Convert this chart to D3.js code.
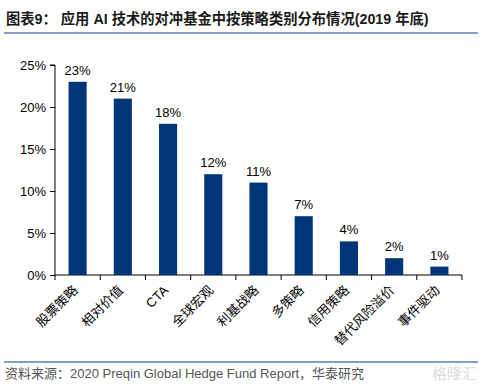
<!DOCTYPE html>
<html>
<head>
<meta charset="utf-8">
<script src="https://cdn.jsdelivr.net/npm/d3@7"></script>
<style>
  body { margin: 0; background: #fff; }
  svg { display: block; }
</style>
</head>
<body>
<svg id="chart" width="482" height="386"></svg>
<script>
var categories = ["股票策略", "相对价值", "CTA", "全球宏观", "利基战略", "多策略", "信用策略", "替代风险溢价", "事件驱动"];
var shares = [23, 21, 18, 12, 11, 7, 4, 2, 1];
var yTicks = [0, 5, 10, 15, 20, 25];

var svg = d3.select("#chart"),
    margin = { left: 55, right: 20, top: 65, bottom: 111 },
    width = +svg.attr("width") - margin.left - margin.right,
    height = +svg.attr("height") - margin.top - margin.bottom;

var sans = "'Liberation Sans', Arial, sans-serif";
var cjk = "'Noto Sans CJK SC', sans-serif";

// title + rule
svg.append("text")
    .attr("x", 6).attr("y", 24)
    .attr("font-family", "'Liberation Sans', 'Noto Sans CJK SC', sans-serif")
    .attr("font-weight", "bold")
    .attr("font-size", 14.3)
    .attr("fill", "#1a1a1a")
    .text("图表9：  应用 AI 技术的对冲基金中按策略类别分布情况(2019 年底)");
svg.append("line")
    .attr("x1", 4).attr("x2", 478).attr("y1", 33).attr("y2", 33)
    .attr("stroke", "#5a7fb5").attr("stroke-width", 1.5);

var g = svg.append("g").attr("transform", "translate(" + margin.left + "," + margin.top + ")");

var x = d3.scaleBand().domain(categories).range([0, width]).paddingInner(0.6).paddingOuter(0.3);
var y = d3.scaleLinear().domain([0, 25]).range([height, 0]);

var yAxis = g.append("g")
    .call(d3.axisLeft(y).tickValues(yTicks).tickSize(5).tickFormat(function(d) { return d + "%"; }));
yAxis.selectAll("text").attr("font-family", sans).attr("font-size", 13).attr("fill", "#000").attr("dx", -1);
yAxis.selectAll("line").attr("stroke", "#000");
yAxis.select(".domain").attr("stroke", "#000").attr("d", "M-5," + y(25) + "H0V" + height);

var xAxis = g.append("g")
    .attr("transform", "translate(0," + height + ")")
    .call(d3.axisBottom(x).tickSize(0).tickFormat(""));
xAxis.select(".domain").attr("stroke", "#000").attr("d", "M0,0H" + width);

// tick marks between categories
var bounds = d3.range(categories.length + 1).map(function(i) { return i * width / categories.length; });
g.selectAll(".sep").data(bounds).enter().append("line")
    .attr("x1", function(d) { return d; }).attr("x2", function(d) { return d; })
    .attr("y1", height).attr("y2", height + 5)
    .attr("stroke", "#000");

g.selectAll(".bar").data(shares).enter().append("rect")
    .attr("x", function(d, i) { return x(categories[i]); })
    .attr("y", function(d) { return y(d); })
    .attr("width", x.bandwidth())
    .attr("height", function(d) { return height - y(d); })
    .attr("fill", "#003679");

g.selectAll(".val").data(shares).enter().append("text")
    .attr("x", function(d, i) { return x(categories[i]) + x.bandwidth() / 2; })
    .attr("y", function(d) { return y(d) - 7; })
    .attr("text-anchor", "middle")
    .attr("font-family", sans).attr("font-size", 13)
    .text(function(d) { return d + "%"; });

g.selectAll(".cat").data(categories).enter().append("text")
    .attr("transform", function(d) {
      return "translate(" + (x(d) + x.bandwidth() / 2 + 1) + "," + (height + 16) + ") rotate(-45)";
    })
    .attr("text-anchor", "end")
    .attr("font-family", function(d) { return d === "CTA" ? sans : cjk; })
    .attr("font-size", 13)
    .text(function(d) { return d; });

// source + rule
svg.append("line")
    .attr("x1", 4).attr("x2", 478).attr("y1", 362).attr("y2", 362)
    .attr("stroke", "#5a7fb5").attr("stroke-width", 1.5);
svg.append("text")
    .attr("x", 5).attr("y", 378)
    .attr("font-family", "'Liberation Sans', 'Noto Sans CJK SC', sans-serif")
    .attr("font-size", 13)
    .attr("fill", "#555")
    .text("资料来源：2020 Preqin Global Hedge Fund Report，华泰研究");
svg.append("text")
    .attr("x", 477).attr("y", 379)
    .attr("text-anchor", "end")
    .attr("font-family", cjk)
    .attr("font-size", 15)
    .attr("fill", "#ddd")
    .text("格隆汇");
</script>
</body>
</html>
